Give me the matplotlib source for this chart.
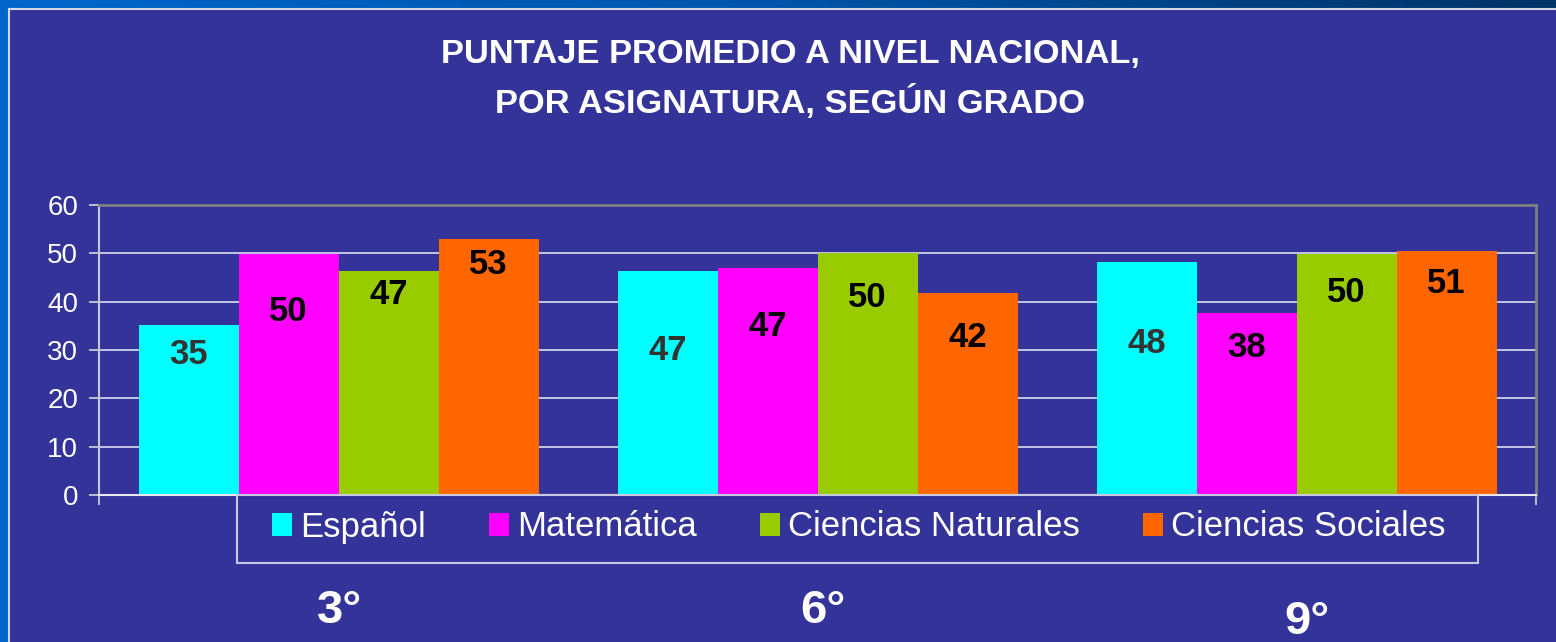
import numpy as np
import matplotlib.pyplot as plt
from matplotlib.patches import Patch, Rectangle
from matplotlib.lines import Line2D
from matplotlib.colors import LinearSegmentedColormap
from matplotlib.transforms import blended_transform_factory, offset_copy

plt.rcParams['font.family'] = ['Liberation Sans', 'DejaVu Sans']

grades = ["3°", "6°", "9°"]
subjects = ["Español", "Matemática", "Ciencias Naturales", "Ciencias Sociales"]
colors = ["#00ffff", "#ff00ff", "#99cc00", "#ff6600"]

# bar heights, one list per subject (3°, 6°, 9°)
espanol = [35.2, 46.3, 48.2]
matematica = [49.9, 47.0, 37.7]
naturales = [46.4, 50.0, 49.9]
sociales = [53.0, 41.8, 50.5]
heights = [espanol, matematica, naturales, sociales]

# printed labels
lab_espanol = [35, 47, 48]
lab_matematica = [50, 47, 38]
lab_naturales = [47, 50, 50]
lab_sociales = [53, 42, 51]
labels = [lab_espanol, lab_matematica, lab_naturales, lab_sociales]

# where each label sits (data units, hand placed in the original)
label_y = [[29.0, 30.0, 31.4],
           [37.9, 34.8, 30.6],
           [41.4, 40.8, 41.8],
           [47.6, 32.5, 43.7]]
label_col = ["#333333", "black", "black", "black"]

bg = "#333399"
W, H = 1556, 642
fig = plt.figure(figsize=(W / 100, H / 100), dpi=100, facecolor=bg)

# top gradient strip and left strip of the slide
strip = fig.add_axes([0, 1 - 8 / H, 1, 8 / H])
cm = LinearSegmentedColormap.from_list("s", ["#0066cc", "#0055aa", "#003366"])
strip.imshow(np.linspace(0, 1, 256)[None, :], aspect="auto", cmap=cm)
strip.axis("off")
fig.patches.append(Rectangle((0, 0), 8 / W, 1, transform=fig.transFigure,
                             color="#0066cc", zorder=0))
fig.lines.append(Line2D([8.5 / W, 1], [1 - 8.5 / H, 1 - 8.5 / H], transform=fig.transFigure,
                        color="#d8d8e8", lw=1.5))
fig.lines.append(Line2D([8.5 / W, 8.5 / W], [0, 1 - 8.5 / H], transform=fig.transFigure,
                        color="#d8d8e8", lw=1.5))

ax = fig.add_axes([99 / W, (H - 495) / H, 1437 / W, 290 / H], facecolor=bg)
x = np.arange(len(grades))
w = 100 / 479
for k, (vals, labs) in enumerate(zip(heights, labels)):
    pos = x + (k - 1.5) * w
    ax.bar(pos, vals, width=w, color=colors[k], zorder=2)
    for p, lab, ly in zip(pos, labs, label_y[k]):
        ax.text(p, ly, str(lab), ha="center", va="center", fontsize=25,
                fontweight="bold", color=label_col[k], zorder=3)

ax.set_xlim(-0.5, 2.5)
ax.set_ylim(0, 60)
ax.set_yticks(range(0, 61, 10))
ax.yaxis.grid(True, color="#d0d0ea", lw=1.3, zorder=1)
ax.set_axisbelow(True)
ax.tick_params(axis="y", colors="#c8c8d8", labelcolor="white", labelsize=20,
               length=7, width=1.3, pad=8)
ax.set_xticks([-0.5, 2.5])
ax.set_xticklabels([])
ax.tick_params(axis="x", colors="#c8c8d8", length=7, width=1.3)
for s in ["top", "right"]:
    ax.spines[s].set_color("#808080")
    ax.spines[s].set_linewidth(2)
ax.spines["left"].set_color("#c8c8d8")
ax.spines["bottom"].set_color("#e8e8f0")
ax.spines["left"].set_linewidth(1.5)
ax.spines["bottom"].set_linewidth(1.5)

# legend box under the axis
fig.patches.append(Rectangle((237 / W, (H - 563) / H), 1241 / W, 68 / H,
                             transform=fig.transFigure, facecolor=bg,
                             edgecolor="#c8c8e0", lw=1.5, zorder=3))
handles = [Patch(facecolor=c, edgecolor="none") for c in colors]
leg = fig.legend(handles, subjects, ncol=4, loc="center left",
                 bbox_to_anchor=(272 / W, (H - 527) / H),
                 fontsize=25, frameon=False, borderpad=0, borderaxespad=0,
                 handlelength=0.58, handleheight=0.66, handletextpad=0.22,
                 columnspacing=1.83, labelcolor="white")
leg.set_zorder(4)

fig.text(790 / W, 1 - 63 / H, "PUNTAJE PROMEDIO A NIVEL NACIONAL,",
         ha="center", va="baseline", fontsize=24.8, fontweight="bold", color="white")
fig.text(790 / W, 1 - 113 / H, "POR ASIGNATURA, SEGÚN GRADO",
         ha="center", va="baseline", fontsize=24.8, fontweight="bold", color="white")

grade_base = [623, 623, 634]
grade_dx = [1, 5, 10]
tr = blended_transform_factory(ax.transData, fig.transFigure)
for i, g in enumerate(grades):
    t = offset_copy(tr, fig=fig, x=grade_dx[i], units="dots")
    ax.text(x[i], 1 - grade_base[i] / H, g, transform=t, ha="center", va="baseline",
            fontsize=34, fontweight="bold", color="white", clip_on=False)

fig.savefig("out.png", dpi=100, facecolor=bg)
